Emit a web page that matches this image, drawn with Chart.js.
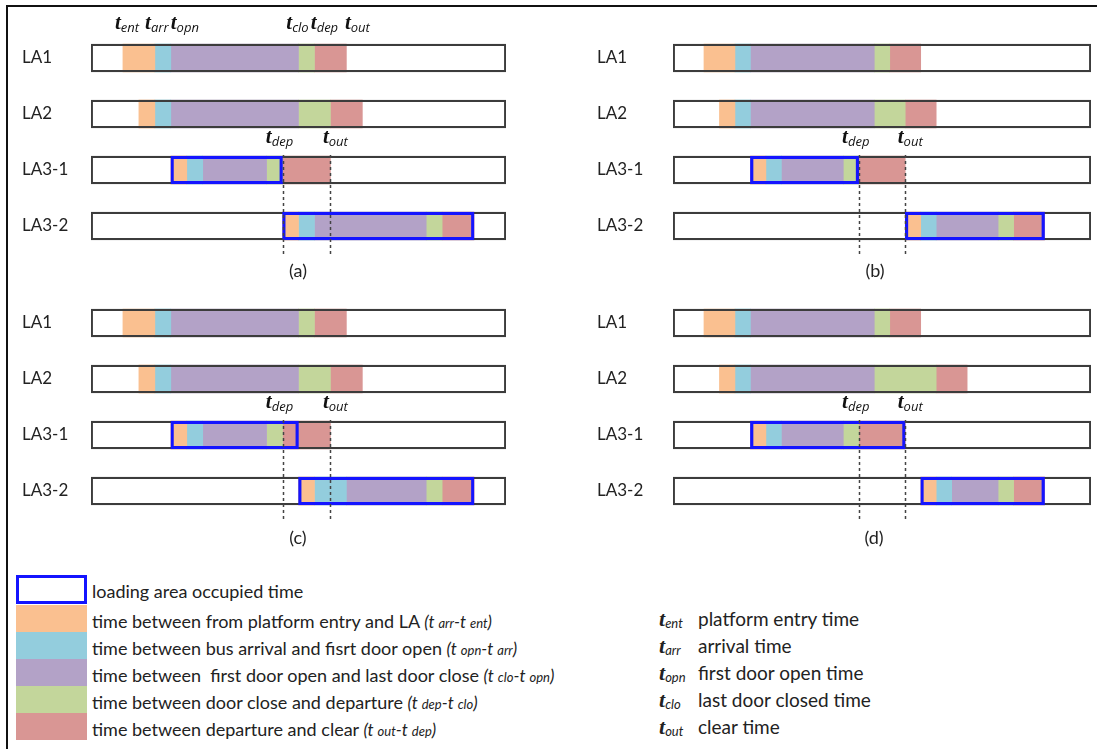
<!DOCTYPE html>
<html>
<head>
<meta charset="utf-8">
<script src="https://cdn.jsdelivr.net/npm/chart.js@4/dist/chart.umd.min.js"></script>
<style>
  body { margin: 0; background: #fff; font-family: Lato, "Open Sans", sans-serif; color: #222; }
  #page { position: relative; width: 1097px; height: 749px; overflow: hidden; background: #fff; }
  .frame { position: absolute; left: 6px; top: 5px; width: 1200px; height: 800px; border-left: 2px solid #111; border-top: 2px solid #111; }
  .panel { position: absolute; }
  .tag { position: absolute; font-size: 18px; transform: translate(-50%, -50%); }
  .sw { position: absolute; left: 16px; width: 71px; }
  .lt { position: absolute; left: 92px; font-size: 18px; line-height: 20px; white-space: nowrap; }
  .lt .f { font-style: italic; font-size: 17px; }
  .lt .f small { font-size: 13px; }
  .sym { position: absolute; left: 659px; white-space: nowrap; font-size: 19px; line-height: 20px; }
  .sym b { font-family: "Liberation Serif", serif; font-style: italic; font-size: 22px; }
  .sym sub { font-style: italic; font-size: 13px; vertical-align: -2px; display: inline-block; width: 28px; }
</style>
</head>
<body>
<div id="page">
  <div class="frame"></div>
  <div class="panel" style="left:22px;top:0px"><canvas id="ca" width="484" height="290"></canvas></div>
  <div class="panel" style="left:597px;top:0px"><canvas id="cb" width="494" height="290"></canvas></div>
  <div class="panel" style="left:22px;top:265px"><canvas id="cc" width="484" height="290"></canvas></div>
  <div class="panel" style="left:597px;top:265px"><canvas id="cd" width="494" height="290"></canvas></div>
  <div class="tag" style="left:298px;top:270px">(a)</div>
  <div class="tag" style="left:875px;top:270px">(b)</div>
  <div class="tag" style="left:298px;top:537px">(c)</div>
  <div class="tag" style="left:874px;top:537px">(d)</div>

  <div class="sw" style="top:575px;height:29px;box-sizing:border-box;border:3px solid #1414ff;background:#fff"></div>
  <div class="sw" style="top:605px;height:27px;background:#FAC090"></div>
  <div class="sw" style="top:632px;height:27px;background:#93CDDD"></div>
  <div class="sw" style="top:659px;height:27px;background:#B3A2C7"></div>
  <div class="sw" style="top:686px;height:27px;background:#C3D69B"></div>
  <div class="sw" style="top:713px;height:27px;background:#D99694"></div>

  <div class="lt" style="top:581px">loading area occupied time</div>
  <div class="lt" style="top:611px">time between from platform entry and LA <span class="f">(t <small>arr</small>-t <small>ent</small>)</span></div>
  <div class="lt" style="top:638px">time between bus arrival and fisrt door open <span class="f">(t <small>opn</small>-t <small>arr</small>)</span></div>
  <div class="lt" style="top:665px">time between&nbsp; first door open and last door close <span class="f">(t <small>clo</small>-t <small>opn</small>)</span></div>
  <div class="lt" style="top:692px">time between door close and departure <span class="f">(t <small>dep</small>-t <small>clo</small>)</span></div>
  <div class="lt" style="top:719px">time between departure and clear <span class="f">(t <small>out</small>-t <small>dep</small>)</span></div>

  <div class="sym" style="top:609px"><b>t</b><sub>ent</sub> platform entry time</div>
  <div class="sym" style="top:636px"><b>t</b><sub>arr</sub> arrival time</div>
  <div class="sym" style="top:663px"><b>t</b><sub>opn</sub> first door open time</div>
  <div class="sym" style="top:690px"><b>t</b><sub>clo</sub> last door closed time</div>
  <div class="sym" style="top:717px"><b>t</b><sub>out</sub> clear time</div>
</div>

<script>
const rows = ["LA1", "LA2", "LA3-1", "LA3-2"];
// boundaries per row: t_ent, t_arr, t_opn, t_clo, t_dep, t_out
const timesA = [[2, 4, 5, 13, 14, 16], [3, 4, 5, 13, 15, 17], [5, 6, 7, 11, 12, 15], [12, 13, 14, 21, 22, 24]];
const timesB = [[2, 4, 5, 13, 14, 16], [3, 4, 5, 13, 15, 17], [5, 6, 7, 11, 12, 15], [15, 16, 17, 21, 22, 24]];
const timesC = [[2, 4, 5, 13, 14, 16], [3, 4, 5, 13, 15, 17], [5, 6, 7, 11, 12, 15], [13, 14, 16, 21, 22, 24]];
const timesD = [[2, 4, 5, 13, 14, 16], [3, 4, 5, 13, 17, 19], [5, 6, 7, 11, 12, 15], [16, 17, 18, 21, 22, 24]];
// loading area occupied time (blue box)
const boxA = [null, null, [5, 12], [12, 24]];
const boxB = [null, null, [5, 12], [15, 24]];
const boxC = [null, null, [5, 13], [13, 24]];
const boxD = [null, null, [5, 15], [16, 24]];
const trackEnd = [26, 27, 26, 27];
const phaseNames = ["t arr-t ent", "t opn-t arr", "t clo-t opn", "t dep-t clo", "t out-t dep"];
const phaseColors = ["#FAC090", "#93CDDD", "#B3A2C7", "#C3D69B", "#D99694"];
const topSubs = ["ent", "arr", "opn", "clo", "dep", "out"];

function drawT(ctx, cx, base, sub) {
  const tf = 'italic bold 21px "Liberation Serif", serif';
  const sf = 'italic 13px "Open Sans", sans-serif';
  ctx.font = tf;
  const tw = ctx.measureText("t").width;
  ctx.font = sf;
  const sw = ctx.measureText(sub).width;
  const x0 = cx - (tw + sw) / 2;
  ctx.fillStyle = "#111";
  ctx.textAlign = "left";
  ctx.textBaseline = "alphabetic";
  ctx.font = tf;
  ctx.fillText("t", x0, base);
  ctx.font = sf;
  ctx.fillText(sub, x0 + tw, base + 3);
}

const annot = {
  id: "annot",
  afterDatasetsDraw(chart, args, o) {
    const { ctx } = chart;
    const xs = chart.scales.x, ys = chart.scales.y;
    const half = 14;
    const yTop = ys.getPixelForValue(2) - half - 1;
    const yBot = ys.getPixelForValue(3) + half + 15;
    const marks = [o.times[2][4], o.times[2][5]];
    ctx.save();
    ctx.strokeStyle = "#444";
    ctx.lineWidth = 1.5;
    ctx.setLineDash([3, 3]);
    marks.forEach(v => {
      const px = Math.round(xs.getPixelForValue(v)) + 0.5;
      ctx.beginPath();
      ctx.moveTo(px, yTop);
      ctx.lineTo(px, yBot);
      ctx.stroke();
    });
    ctx.setLineDash([]);
    drawT(ctx, xs.getPixelForValue(marks[0]) - 3, yTop - 12, "dep");
    drawT(ctx, xs.getPixelForValue(marks[1]) + 5, yTop - 12, "out");
    if (o.top) {
      const nudge = [4, 2, 14, -1, 10, 11];
      const base = ys.getPixelForValue(0) - half - 15;
      topSubs.forEach((s, i) => drawT(ctx, xs.getPixelForValue(o.times[0][i]) + nudge[i], base, s));
    }
    ctx.restore();
  }
};

function makeChart(id, times, box, maxT, axisW, top) {
  const track = rows.map(() => [0, maxT]);
  const common = { grouped: false, barThickness: 28, borderSkipped: false };
  const datasets = [
    { ...common, label: "track", data: track, backgroundColor: "#fff", borderWidth: 0, order: 10 },
    ...phaseNames.map((n, i) => ({
      ...common, label: n, data: times.map(t => [t[i], t[i + 1]]),
      backgroundColor: phaseColors[i], borderWidth: 0, order: 5
    })),
    { ...common, label: "outline", data: track, backgroundColor: "rgba(0,0,0,0)", borderColor: "#3c3c3c", borderWidth: 1.6, order: 2 },
    { ...common, label: "loading area occupied time", data: box, backgroundColor: "rgba(0,0,0,0)", borderColor: "#1414ff", borderWidth: 2.6, order: 1 }
  ];
  new Chart(document.getElementById(id), {
    type: "bar",
    data: { labels: rows, datasets },
    plugins: [annot],
    options: {
      indexAxis: "y",
      responsive: false,
      animation: false,
      layout: { padding: { top: 30, bottom: 36, left: 0, right: 0 } },
      plugins: {
        legend: { display: false },
        tooltip: { enabled: false },
        annot: { times, top }
      },
      scales: {
        x: { type: "linear", min: 0, max: maxT, display: false },
        y: {
          type: "category",
          grid: { display: false },
          border: { display: false },
          ticks: { color: "#222", font: { family: "Lato", size: 17 }, crossAlign: "far", padding: 0 },
          afterFit: s => { s.width = axisW; }
        }
      }
    }
  });
}

makeChart("ca", timesA, boxA, trackEnd[0], 69, true);
makeChart("cb", timesB, boxB, trackEnd[1], 76, false);
makeChart("cc", timesC, boxC, trackEnd[2], 69, false);
makeChart("cd", timesD, boxD, trackEnd[3], 76, false);
</script>
</body>
</html>
